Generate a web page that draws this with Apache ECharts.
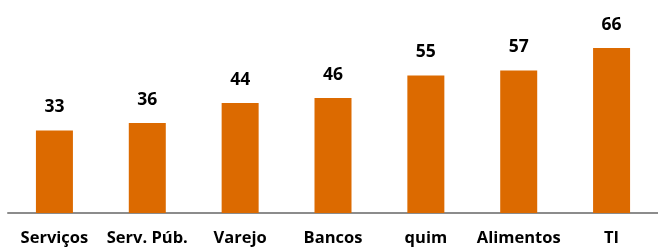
<html>
<head>
<meta charset="utf-8">
<script src="https://cdn.jsdelivr.net/npm/echarts@6/dist/echarts.min.js"></script>
<style>
  body { margin: 0; background: #fff; }
  #main { width: 658px; height: 250px; }
</style>
</head>
<body>
<div id="main"></div>
<script>
var categories = ['Serviços', 'Serv. Púb.', 'Varejo', 'Bancos', 'quim', 'Alimentos', 'TI'];
var values = [33, 36, 44, 46, 55, 57, 66];

var chart = echarts.init(document.getElementById('main'));
chart.setOption({
    animation: false,
    grid: { left: 8, right: -2, top: 13, bottom: 37 },
    xAxis: {
        type: 'category',
        data: categories,
        axisTick: { show: false },
        axisLine: { lineStyle: { color: '#8c8c8c', width: 2 } },
        axisLabel: {
            interval: 0,
            margin: 17,
            color: '#000',
            fontFamily: 'Open Sans',
            fontWeight: 'bold',
            fontSize: 16.5
        }
    },
    yAxis: {
        type: 'value',
        min: 0,
        max: 80,
        show: false,
        splitLine: { show: false }
    },
    series: [{
        type: 'bar',
        data: values,
        barWidth: 37,
        itemStyle: { color: '#dc6a00' },
        label: {
            show: true,
            position: 'top',
            distance: 14,
            color: '#000',
            fontFamily: 'Open Sans',
            fontWeight: 'bold',
            fontSize: 17.5
        }
    }]
});
</script>
</body>
</html>
